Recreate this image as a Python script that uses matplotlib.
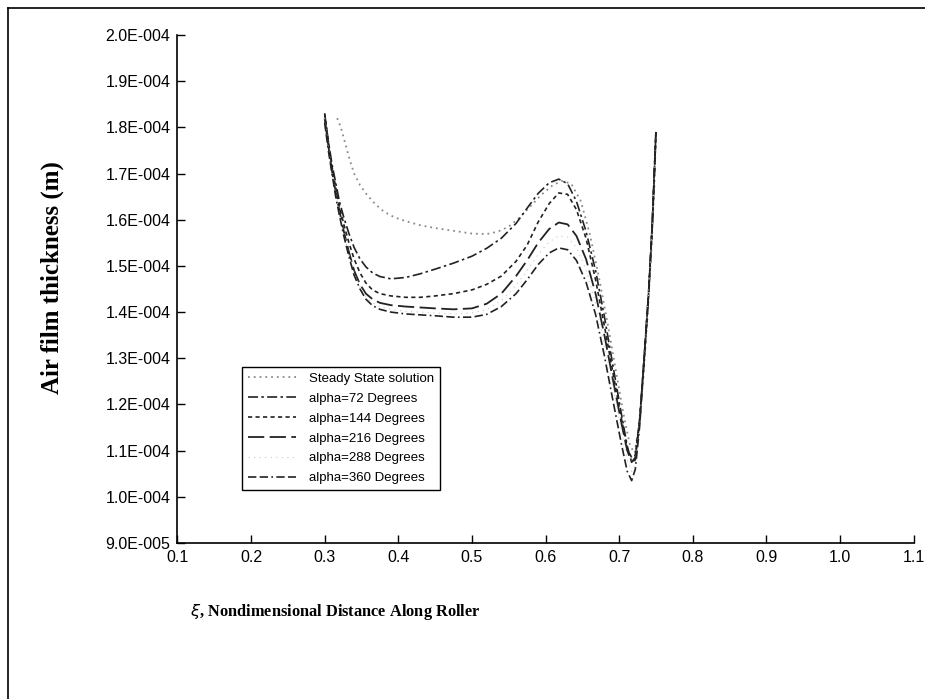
import matplotlib.pyplot as plt
from matplotlib.lines import Line2D
import numpy as np

# nondimensional distance and film thickness (in 1e-4 m)
x_ss = [0.317, 0.322, 0.328, 0.334, 0.340, 0.348, 0.357, 0.368, 0.380, 0.395, 0.410, 0.430,
        0.450, 0.475, 0.500, 0.520, 0.535, 0.550, 0.565, 0.580, 0.595, 0.610, 0.622, 0.635,
        0.648, 0.660, 0.672, 0.685, 0.697, 0.707, 0.715, 0.721, 0.727, 0.733, 0.739, 0.744,
        0.748, 0.750]
h_ss = [1.82, 1.80, 1.765, 1.73, 1.70, 1.675, 1.655, 1.635, 1.618, 1.605, 1.597, 1.588,
        1.582, 1.576, 1.570, 1.569, 1.574, 1.585, 1.605, 1.630, 1.655, 1.675, 1.684, 1.678,
        1.640, 1.570, 1.480, 1.370, 1.260, 1.170, 1.110, 1.095, 1.150, 1.260, 1.400, 1.540,
        1.680, 1.790]

x_tr = [0.300, 0.305, 0.310, 0.315, 0.320, 0.326, 0.333, 0.340, 0.348, 0.356, 0.365, 0.375,
        0.390, 0.410, 0.430, 0.450, 0.475, 0.500, 0.520, 0.540, 0.560, 0.575, 0.590, 0.605,
        0.618, 0.630, 0.642, 0.655, 0.668, 0.680, 0.692, 0.703, 0.711, 0.717, 0.722, 0.728,
        0.734, 0.740, 0.745, 0.750]

h_72 = [1.83, 1.77, 1.72, 1.68, 1.64, 1.605, 1.57, 1.54, 1.515, 1.498, 1.485, 1.477,
        1.472, 1.475, 1.483, 1.493, 1.506, 1.521, 1.538, 1.560, 1.592, 1.625, 1.657, 1.680,
        1.688, 1.678, 1.640, 1.575, 1.490, 1.390, 1.280, 1.180, 1.110, 1.075, 1.080, 1.170,
        1.300, 1.440, 1.590, 1.790]
h_144 = [1.83, 1.77, 1.715, 1.67, 1.63, 1.59, 1.55, 1.515, 1.485, 1.463, 1.448, 1.440,
         1.435, 1.432, 1.432, 1.435, 1.440, 1.448, 1.460, 1.478, 1.510, 1.545, 1.595, 1.635,
         1.658, 1.655, 1.622, 1.560, 1.470, 1.370, 1.265, 1.170, 1.105, 1.085, 1.090, 1.170,
         1.300, 1.440, 1.590, 1.790]
h_216 = [1.82, 1.76, 1.705, 1.66, 1.62, 1.575, 1.53, 1.49, 1.46, 1.44, 1.428, 1.420,
         1.415, 1.412, 1.410, 1.408, 1.406, 1.408, 1.418, 1.440, 1.478, 1.512, 1.550, 1.580,
         1.594, 1.590, 1.565, 1.515, 1.440, 1.350, 1.250, 1.160, 1.100, 1.075, 1.085, 1.165,
         1.300, 1.440, 1.590, 1.790]
h_288 = [1.82, 1.76, 1.70, 1.655, 1.615, 1.57, 1.525, 1.485, 1.455, 1.433, 1.420, 1.412,
         1.406, 1.402, 1.400, 1.398, 1.396, 1.398, 1.405, 1.425, 1.458, 1.490, 1.525, 1.552,
         1.565, 1.562, 1.540, 1.492, 1.420, 1.330, 1.235, 1.145, 1.080, 1.055, 1.070, 1.160,
         1.300, 1.440, 1.590, 1.790]
h_360 = [1.81, 1.75, 1.70, 1.65, 1.61, 1.565, 1.52, 1.48, 1.45, 1.428, 1.414, 1.406,
         1.400, 1.396, 1.394, 1.392, 1.389, 1.389, 1.395, 1.412, 1.440, 1.470, 1.503, 1.528,
         1.539, 1.535, 1.512, 1.465, 1.395, 1.305, 1.205, 1.115, 1.055, 1.035, 1.060, 1.155,
         1.300, 1.440, 1.590, 1.790]

labels = ['Steady State solution', 'alpha=72 Degrees', 'alpha=144 Degrees',
          'alpha=216 Degrees', 'alpha=288 Degrees', 'alpha=360 Degrees']

xticks = [0.1, 0.2, 0.3, 0.4, 0.5, 0.6, 0.7, 0.8, 0.9, 1.0, 1.1]
yticks = [0.9, 1.0, 1.1, 1.2, 1.3, 1.4, 1.5, 1.6, 1.7, 1.8, 1.9, 2.0]
ytick_labels = ['9.0E-005', '1.0E-004', '1.1E-004', '1.2E-004', '1.3E-004', '1.4E-004',
                '1.5E-004', '1.6E-004', '1.7E-004', '1.8E-004', '1.9E-004', '2.0E-004']

fig = plt.figure(figsize=(9.25, 6.99), dpi=100)
ax = fig.add_axes([0.1918, 0.2232, 0.7959, 0.7267])

ax.plot(x_ss, h_ss, color='#8a8a8a', lw=1.3, linestyle=(0, (1, 2.2)), label=labels[0])
ax.plot(x_tr, h_72, color='#222222', lw=1.2, linestyle=(0, (6, 2, 1.5, 2)), label=labels[1])
ax.plot(x_tr, h_144, color='#222222', lw=1.2, linestyle=(0, (2.5, 2)), label=labels[2])
ax.plot(x_tr, h_216, color='#222222', lw=1.3, linestyle=(0, (9, 3)), label=labels[3])
ax.plot(x_tr, h_288, color='#c8c8c8', lw=0.8, linestyle=(0, (1, 4)), label=labels[4])
ax.plot(x_tr, h_360, color='#222222', lw=1.2, linestyle=(0, (5, 2, 5, 2, 1, 2)), label=labels[5])

ax.set_xlim(0.1, 1.1)
ax.set_ylim(0.9, 2.0)
ax.set_xticks(xticks)
ax.set_xticklabels(['%.1f' % v for v in xticks])
ax.set_yticks(yticks)
ax.set_yticklabels(ytick_labels)
ax.tick_params(direction='in', length=6, width=1, labelsize=11.5, pad=5)
for lab in ax.get_xticklabels() + ax.get_yticklabels():
    lab.set_family('Liberation Sans')
ax.spines['top'].set_visible(False)
ax.spines['right'].set_visible(False)
ax.spines['left'].set_linewidth(1.2)
ax.spines['bottom'].set_linewidth(1.2)

leg = ax.legend(loc='upper left', bbox_to_anchor=(0.088, 0.347), fancybox=False,
                edgecolor='black', framealpha=1, borderaxespad=0,
                prop={'family': 'Liberation Sans', 'size': 9.5},
                handlelength=3.6, handletextpad=1.0, labelspacing=0.58, borderpad=0.45)
leg.get_frame().set_linewidth(1.0)

fig.text(190 / 925, 1 - 612 / 699, r'$\xi$, Nondimensional Distance Along Roller',
         family='Liberation Serif', fontsize=11.8, fontweight='bold', ha='left', va='center')
fig.text(52 / 925, 1 - 278 / 699, 'Air film thickness (m)', family='Liberation Serif',
         fontsize=18, fontweight='bold', rotation=90, ha='center', va='center')

# page frame
fig.add_artist(Line2D([8 / 925, 1], [1 - 8 / 699, 1 - 8 / 699], color='black', lw=1.2))
fig.add_artist(Line2D([8 / 925, 8 / 925], [0, 1 - 8 / 699], color='black', lw=1.2))

fig.savefig('out.png', dpi=100)
